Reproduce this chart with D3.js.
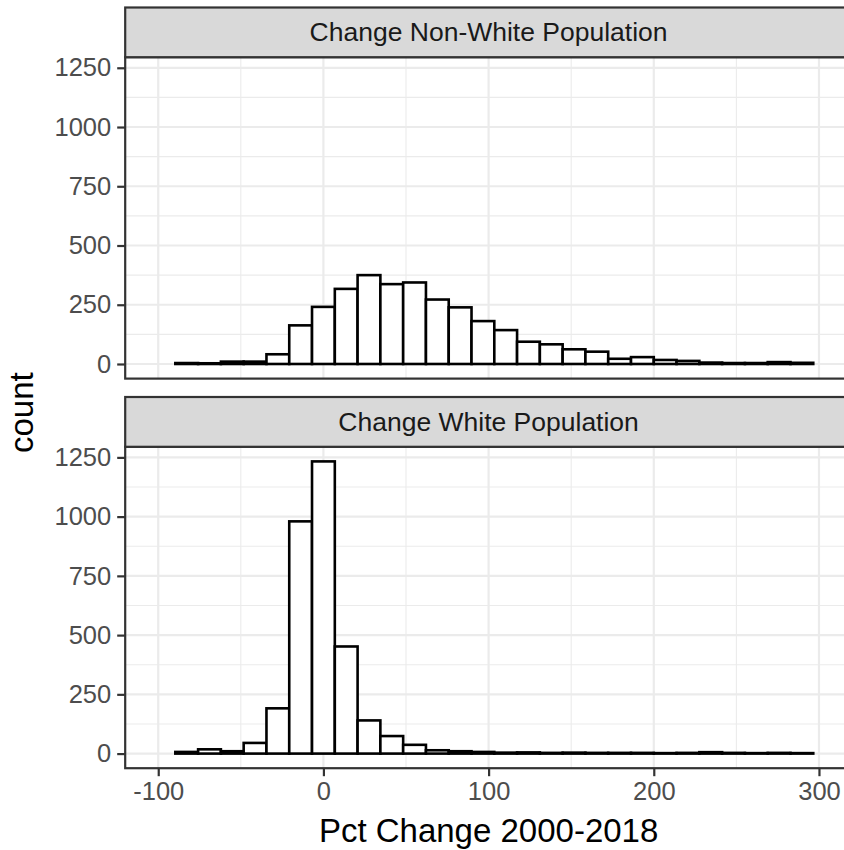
<!DOCTYPE html>
<html>
<head>
<meta charset="utf-8">
<script src="https://cdn.jsdelivr.net/npm/d3@7"></script>
<style>
  html, body { margin: 0; padding: 0; background: #fff; }
  svg { display: block; font-family: "Liberation Sans", Arial, Helvetica, sans-serif; }
</style>
</head>
<body>
<svg id="chart" width="844" height="850"></svg>
<script>
// ---- Data ----
const panelTitles = ["Change Non-White Population", "Change White Population"];
const binEdges = [-89.66, -75.86, -62.07, -48.28, -34.48, -20.69, -6.90, 6.90, 20.69, 34.48,
  48.28, 62.07, 75.86, 89.66, 103.45, 117.24, 131.03, 144.83, 158.62, 172.41,
  186.21, 200.00, 213.79, 227.59, 241.38, 255.17, 268.97, 282.76, 296.55];
const countsNonWhite = [4, 3, 10, 10, 41, 163, 241, 317, 375, 337, 344, 272, 239, 181,
  143, 94, 83, 62, 52, 22, 29, 17, 13, 6, 4, 4, 8, 5];
const countsWhite = [7, 18, 10, 45, 191, 980, 1233, 452, 140, 74, 37, 14, 10, 7,
  4, 5, 3, 4, 3, 3, 3, 2, 3, 6, 3, 2, 3, 2];
const xTicks = [-100, 0, 100, 200, 300];
const xMinor = [-50, 50, 150, 250];
const yTicks = [0, 250, 500, 750, 1000, 1250];
const yMinor = [125, 375, 625, 875, 1125];
const xLimits = [-100, 300];
const xTitle = "Pct Change 2000-2018";
const yTitle = "count";

// ---- Layout ----
const svg = d3.select("#chart");
const panelLeft = 125.2, panelRight = 852;
const panels = [
  { title: panelTitles[0], counts: countsNonWhite, stripTop: 7.5, top: 57.2, bottom: 378.6 },
  { title: panelTitles[1], counts: countsWhite, stripTop: 397, top: 446.8, bottom: 768.2 }
];

const xSpan = xLimits[1] - xLimits[0];
const x = d3.scaleLinear()
  .domain([xLimits[0] - 0.05 * xSpan, xLimits[1] + 0.05 * xSpan])
  .range([panelLeft, panelRight]);

const yMax = d3.max([...countsNonWhite, ...countsWhite]);
const yDomain = [-0.05 * yMax, yMax * 1.05];

const gridMajor = "#EBEBEB", dark = "#333333", textCol = "#4D4D4D";
const lw = 2.2;
const fmt = d => String(d); // plain hyphen-minus like the reference

panels.forEach((p, pi) => {
  const y = d3.scaleLinear().domain(yDomain).range([p.bottom, p.top]);
  const g = svg.append("g");

  g.append("rect").attr("x", panelLeft).attr("y", p.top)
    .attr("width", panelRight - panelLeft).attr("height", p.bottom - p.top)
    .attr("fill", "#fff");

  // minor grid
  g.selectAll(".ymin").data(yMinor).join("line")
    .attr("x1", panelLeft).attr("x2", panelRight)
    .attr("y1", d => y(d)).attr("y2", d => y(d))
    .attr("stroke", gridMajor).attr("stroke-width", lw / 2);
  g.selectAll(".xmin").data(xMinor).join("line")
    .attr("y1", p.top).attr("y2", p.bottom)
    .attr("x1", d => x(d)).attr("x2", d => x(d))
    .attr("stroke", gridMajor).attr("stroke-width", lw / 2);
  // major grid
  g.selectAll(".ymaj").data(yTicks).join("line")
    .attr("x1", panelLeft).attr("x2", panelRight)
    .attr("y1", d => y(d)).attr("y2", d => y(d))
    .attr("stroke", gridMajor).attr("stroke-width", lw);
  g.selectAll(".xmaj").data(xTicks).join("line")
    .attr("y1", p.top).attr("y2", p.bottom)
    .attr("x1", d => x(d)).attr("x2", d => x(d))
    .attr("stroke", gridMajor).attr("stroke-width", lw);

  // bars
  const bins = p.counts.map((c, i) => ({ x0: binEdges[i], x1: binEdges[i + 1], c }));
  g.selectAll(".bar").data(bins).join("rect")
    .attr("x", d => x(d.x0)).attr("width", d => x(d.x1) - x(d.x0))
    .attr("y", d => y(d.c)).attr("height", d => y(0) - y(d.c))
    .attr("fill", "#fff").attr("stroke", "#000").attr("stroke-width", 2.6);

  // panel border
  g.append("rect").attr("x", panelLeft).attr("y", p.top)
    .attr("width", panelRight - panelLeft).attr("height", p.bottom - p.top)
    .attr("fill", "none").attr("stroke", dark).attr("stroke-width", lw);

  // strip
  g.append("rect").attr("x", panelLeft).attr("y", p.stripTop)
    .attr("width", panelRight - panelLeft).attr("height", p.top - p.stripTop)
    .attr("fill", "#D9D9D9").attr("stroke", dark).attr("stroke-width", lw);
  g.append("text")
    .attr("x", (panelLeft + panelRight) / 2).attr("y", (p.stripTop + p.top) / 2)
    .attr("text-anchor", "middle").attr("dominant-baseline", "central")
    .attr("font-size", 26.5).attr("fill", "#1A1A1A")
    .text(p.title);

  // y axis
  const yAxis = d3.axisLeft(y).tickValues(yTicks).tickSize(8).tickPadding(6).tickFormat(fmt);
  const ya = g.append("g").attr("transform", `translate(${panelLeft},0)`).call(yAxis);
  ya.select(".domain").remove();
  ya.selectAll(".tick line").attr("stroke", dark).attr("stroke-width", lw);
  ya.selectAll(".tick text").attr("fill", textCol).attr("font-size", 25.5)
    .attr("font-family", "Liberation Sans, Arial, sans-serif");

  if (pi === panels.length - 1) {
    const xAxis = d3.axisBottom(x).tickValues(xTicks).tickSize(8).tickPadding(6).tickFormat(fmt);
    const xa = g.append("g").attr("transform", `translate(0,${p.bottom})`).call(xAxis);
    xa.select(".domain").remove();
    xa.selectAll(".tick line").attr("stroke", dark).attr("stroke-width", lw);
    xa.selectAll(".tick text").attr("fill", textCol).attr("font-size", 25.5)
      .attr("font-family", "Liberation Sans, Arial, sans-serif");
  }
});

// axis titles
svg.append("text")
  .attr("x", (panelLeft + panelRight) / 2).attr("y", 842)
  .attr("text-anchor", "middle").attr("font-size", 33).attr("fill", "#000")
  .text(xTitle);
svg.append("text")
  .attr("transform", `translate(33, ${(57.2 + 768.2) / 2}) rotate(-90)`)
  .attr("text-anchor", "middle").attr("font-size", 33).attr("fill", "#000")
  .text(yTitle);
</script>
</body>
</html>
